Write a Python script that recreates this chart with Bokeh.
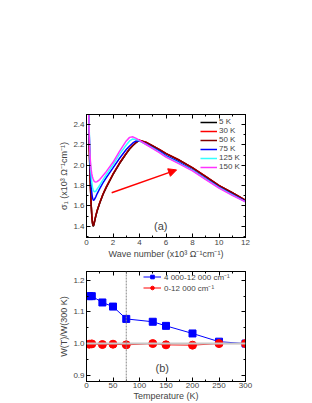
from bokeh.plotting import figure
from bokeh.models import (Range1d, SingleIntervalTicker, LinearAxis, Legend, LegendItem,
                          Span, Arrow, NormalHead, Label, CustomJSTickFormatter,
                          NumeralTickFormatter)
from bokeh.layouts import column
from bokeh.embed import file_html
from bokeh.resources import INLINE

# ---------------- data: panel (a) ----------------
wave_number = [0.1, 0.15, 0.2, 0.25, 0.3, 0.35, 0.4, 0.45, 0.5, 0.55, 0.6, 0.7, 0.8, 1.0,
               1.25, 1.5, 2, 2.5, 3, 3.25, 3.5, 3.75, 4, 4.5, 5, 5.5, 6, 7, 8, 9, 10, 11, 12]
sigma_5K = [3.2, 2.62, 2.25, 1.98, 1.78, 1.62, 1.50, 1.43, 1.40, 1.41, 1.44, 1.50, 1.55, 1.63,
            1.715, 1.785, 1.91, 2.02, 2.115, 2.16, 2.195, 2.225, 2.245, 2.225, 2.19, 2.155,
            2.115, 2.05, 1.975, 1.89, 1.80, 1.73, 1.655]
sigma_30K = [3.2, 2.63, 2.26, 1.99, 1.79, 1.63, 1.51, 1.44, 1.41, 1.42, 1.45, 1.505, 1.555, 1.635,
             1.72, 1.79, 1.915, 2.025, 2.12, 2.163, 2.198, 2.228, 2.247, 2.227, 2.192, 2.157,
             2.117, 2.052, 1.977, 1.892, 1.802, 1.732, 1.657]
sigma_50K = [3.2, 2.62, 2.25, 1.98, 1.78, 1.62, 1.505, 1.435, 1.405, 1.415, 1.445, 1.50, 1.55, 1.63,
             1.715, 1.785, 1.91, 2.02, 2.115, 2.16, 2.195, 2.225, 2.245, 2.225, 2.19, 2.155,
             2.115, 2.05, 1.975, 1.89, 1.80, 1.73, 1.655]
sigma_75K = [3.3, 2.70, 2.35, 2.10, 1.93, 1.81, 1.73, 1.68, 1.66, 1.655, 1.665, 1.69, 1.72, 1.77,
             1.83, 1.88, 1.975, 2.07, 2.155, 2.19, 2.22, 2.24, 2.24, 2.21, 2.175, 2.14,
             2.095, 2.03, 1.955, 1.87, 1.785, 1.715, 1.645]
sigma_125K = [3.3, 2.72, 2.38, 2.15, 2.00, 1.90, 1.83, 1.785, 1.76, 1.745, 1.74, 1.745, 1.765, 1.805,
              1.86, 1.91, 2.005, 2.11, 2.20, 2.24, 2.26, 2.255, 2.24, 2.205, 2.17, 2.13,
              2.085, 2.02, 1.95, 1.865, 1.78, 1.71, 1.64]
sigma_150K = [3.2, 2.62, 2.32, 2.14, 2.03, 1.96, 1.915, 1.885, 1.865, 1.85, 1.84, 1.835, 1.84, 1.86,
              1.90, 1.94, 2.03, 2.14, 2.24, 2.275, 2.28, 2.265, 2.245, 2.205, 2.165, 2.125,
              2.08, 2.015, 1.945, 1.86, 1.775, 1.705, 1.64]
series_labels = ["5 K", "30 K", "50 K", "75 K", "125 K", "150 K"]
series_colors = ["#000000", "#ff0000", "#800000", "#0000ff", "#33ffff", "#ff33ff"]

arrow_start = (1.9, 1.73)
arrow_end = (6.8, 1.955)

# ---------------- data: panel (b) ----------------
temperature = [5, 10, 30, 50, 75, 125, 150, 200, 250, 300]
w_4000_12000 = [1.150, 1.150, 1.130, 1.117, 1.078, 1.069, 1.056, 1.032, 1.006, 1.000]
w_0_12000 = [0.998, 0.999, 0.997, 0.998, 0.996, 1.000, 0.996, 0.995, 1.000, 1.000]
label_b1 = "4 000-12 000 cm\u207b\u00b9"
label_b2 = "0-12 000 cm\u207b\u00b9"
t_marker = 75

FONT = "Liberation Sans"
TICK_FS = "8px"
LABEL_FS = "9px"


def style_axis(ax, lab_standoff=2, axl_standoff=1):
    ax.major_tick_in = 4
    ax.major_tick_out = 0
    ax.minor_tick_in = 2
    ax.minor_tick_out = 0
    ax.axis_line_color = "black"
    ax.major_tick_line_color = "black"
    ax.minor_tick_line_color = "black"
    ax.major_label_text_font = FONT
    ax.major_label_text_font_size = TICK_FS
    ax.axis_label_text_font = FONT
    ax.axis_label_text_font_style = "normal"
    ax.axis_label_text_font_size = LABEL_FS
    ax.major_label_standoff = lab_standoff
    ax.axis_label_standoff = axl_standoff


def style_axes(p, xint, yint, yfmt, xstand=(2, 1)):
    xt = SingleIntervalTicker(interval=xint, num_minor_ticks=2)
    yt = SingleIntervalTicker(interval=yint, num_minor_ticks=2)
    bx = p.below[0]
    ly = p.left[0]
    bx.ticker = xt
    ly.ticker = yt
    ly.formatter = NumeralTickFormatter(format=yfmt)
    blank = CustomJSTickFormatter(code="return ''")
    tx = LinearAxis(ticker=xt, formatter=blank)
    ry = LinearAxis(ticker=yt, formatter=blank)
    p.add_layout(tx, "above")
    p.add_layout(ry, "right")
    style_axis(bx, *xstand)
    style_axis(ly)
    style_axis(tx, 0, 0)
    style_axis(ry, 0, 0)
    p.xgrid.visible = False
    p.ygrid.visible = False
    p.outline_line_color = "black"


def make_legend(items, loc, **kw):
    return Legend(items=items, location=loc, background_fill_alpha=0, border_line_alpha=0,
                  padding=0, margin=0, spacing=0, label_text_font=FONT,
                  label_text_font_size="8px", **kw)


# ---------------- panel (a) ----------------
p1 = figure(width=300, height=261, output_backend="svg", toolbar_location=None,
            x_range=Range1d(0, 12), y_range=Range1d(1.29, 2.5),
            min_border_top=114, min_border_left=86, min_border_right=55, min_border_bottom=20)
p1.xaxis.axis_label = "Wave number (x10\u00b3 \u03a9\u207b\u00b9cm\u207b\u00b9)"
p1.yaxis.axis_label = "\u03c3\u2081 (x10\u00b3 \u03a9\u207b\u00b9cm\u207b\u00b9)"
style_axes(p1, 2, 0.2, "0.0")

all_sigma = [sigma_5K, sigma_30K, sigma_50K, sigma_75K, sigma_125K, sigma_150K]
items = []
for lab, col, ys in zip(series_labels, series_colors, all_sigma):
    r = p1.line(wave_number, ys, line_color=col, line_width=1.5)
    items.append(LegendItem(label=lab, renderers=[r]))

p1.add_layout(make_legend(items, (114, 66), label_height=8, glyph_height=8, glyph_width=17,
                          label_standoff=2))

p1.add_layout(Arrow(end=NormalHead(size=8, fill_color="#ff0000", line_color="#ff0000"),
                    x_start=arrow_start[0], y_start=arrow_start[1],
                    x_end=arrow_end[0], y_end=arrow_end[1],
                    line_color="#ff0000", line_width=1.5))
p1.add_layout(Label(x=5.6, y=1.40, text="(a)", text_font=FONT, text_font_size="11px",
                    text_align="center", text_baseline="middle"))

# ---------------- panel (b) ----------------
p2 = figure(width=300, height=142, output_backend="svg", toolbar_location=None,
            x_range=Range1d(0, 300), y_range=Range1d(0.88, 1.228),
            min_border_top=10, min_border_left=86, min_border_right=55, min_border_bottom=19)
p2.xaxis.axis_label = "Temperature (K)"
p2.yaxis.axis_label = "W(T)/W(300 K)"
style_axes(p2, 50, 0.1, "0.0", xstand=(1, 0))

p2.add_layout(Span(location=1.0, dimension="width", line_color="#c8c8c8", line_width=2))
p2.add_layout(Span(location=t_marker, dimension="height", line_color="#888888",
                   line_width=1, line_dash="2 1"))

rl1 = p2.line(temperature, w_4000_12000, line_color="#0000ff", line_width=1)
rs1 = p2.scatter(temperature, w_4000_12000, marker="square", size=7,
                 fill_color="#0000ff", line_color="#0000ff")
rl2 = p2.line(temperature, w_0_12000, line_color="#ff0000", line_width=1)
rs2 = p2.scatter(temperature, w_0_12000, marker="circle", size=8,
                 fill_color="#ff0000", line_color="#ff0000")

p2.add_layout(make_legend([LegendItem(label=label_b1, renderers=[rl1, rs1])], (57, 99),
                          label_height=9, glyph_height=9, glyph_width=18, label_standoff=3))
p2.add_layout(make_legend([LegendItem(label=label_b2, renderers=[rl2, rs2])], (57, 88),
                          label_height=9, glyph_height=9, glyph_width=18, label_standoff=3))
p2.add_layout(Label(x=143, y=0.923, text="(b)", text_font=FONT, text_font_size="11px",
                    text_align="center", text_baseline="middle"))

layout = column(p1, p2, spacing=0)
open("out.html", "w").write(file_html(layout, INLINE))
